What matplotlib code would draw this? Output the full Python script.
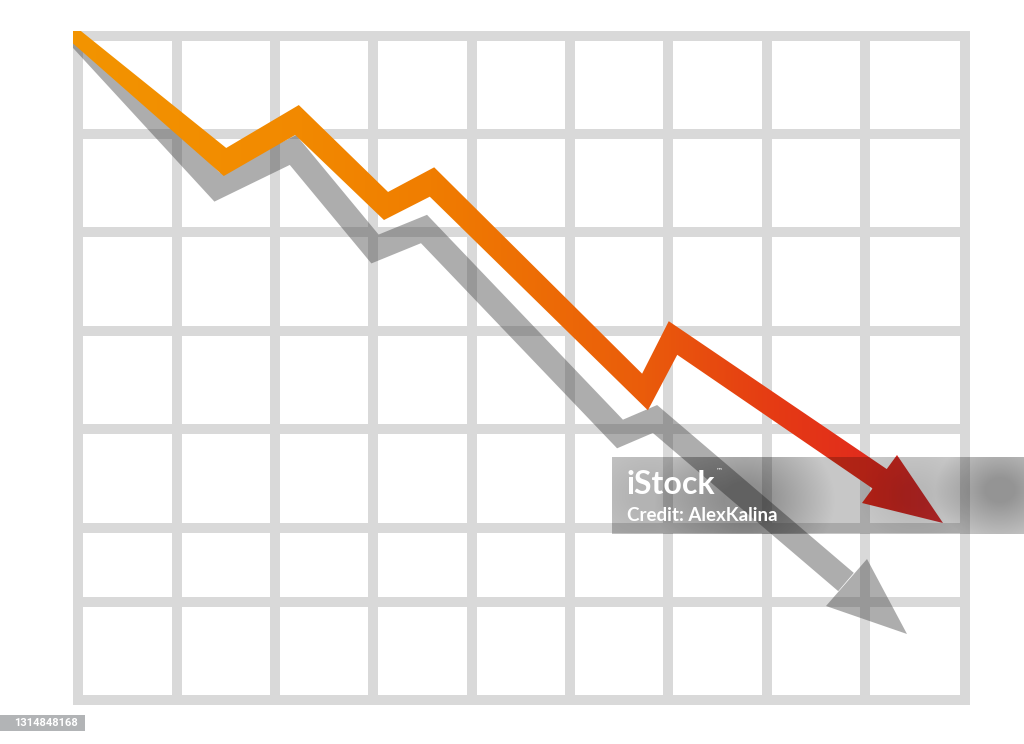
import numpy as np
import matplotlib
matplotlib.use("Agg")
import matplotlib.pyplot as plt
from matplotlib.path import Path
from matplotlib.patches import PathPatch, Rectangle
from matplotlib.colors import LinearSegmentedColormap

# everything is in picture pixels (x right, y down)
grid_x = [78, 177, 275, 373, 472, 570, 668, 767, 865, 965]
grid_y = [36, 134, 232, 331, 429, 528, 602, 700]

# falling line (centre line), with its width at each vertex
line_x = [66, 225, 297, 386, 432, 645, 673, 880]
line_y = [28, 162, 120, 206, 182, 392, 338, 479]
line_w = [14, 23, 24, 23, 24, 22, 23, 24]
head_x = [897, 943, 862]
head_y = [455, 523, 503]

# grey shadow of the line
shadow_x = [66, 217, 293, 375, 424, 620, 655, 846]
shadow_y = [30, 187, 150, 249, 229, 434, 419, 582]
shadow_w = [14, 24, 24, 24, 24, 24, 24, 24]
shead_x = [867, 907, 826]
shead_y = [559, 634, 606]

# orange -> red along x
grad_pos = [73, 300, 430, 645, 780, 880, 945]
grad_col = ["#f39400", "#f28900", "#f07d00", "#ea5c0b", "#e53a14", "#e12a1e", "#dc3034"]

# darker soft spots inside the watermark band (centre x, centre y, radius, strength)
spot_x = [745, 1000, 915, 650]
spot_y = [500, 490, 495, 495]
spot_r = [70, 50, 45, 60]
spot_a = [0.22, 0.2, 0.06, 0.08]

PX = 72 / 100.0


def band(xs, ys, ws):
    P = np.column_stack([xs, ys]).astype(float)
    d = np.diff(P, axis=0)
    d /= np.linalg.norm(d, axis=1)[:, None]
    nrm = np.column_stack([-d[:, 1], d[:, 0]])
    left, right = [], []
    for i in range(len(P)):
        if i == 0:
            m, s = nrm[0], 1.0
        elif i == len(P) - 1:
            m, s = nrm[-1], 1.0
        else:
            m = nrm[i - 1] + nrm[i]
            m = m / np.linalg.norm(m)
            s = 1.0 / np.dot(m, nrm[i])
        h = ws[i] / 2.0 * s
        left.append(P[i] + m * h)
        right.append(P[i] - m * h)
    return np.array(left + right[::-1])


def ccw(poly):
    x, y = poly[:, 0], poly[:, 1]
    a = np.sum(x * np.roll(y, -1) - np.roll(x, -1) * y)
    return poly if a > 0 else poly[::-1]


def shape_path(polys):
    verts, codes = [], []
    for p in polys:
        p = ccw(np.asarray(p, float))
        verts += list(p) + [p[0]]
        codes += [Path.MOVETO] + [Path.LINETO] * (len(p) - 1) + [Path.CLOSEPOLY]
    return Path(verts, codes)


fig = plt.figure(figsize=(10.24, 7.44), dpi=100)
ax = fig.add_axes([0, 0, 1, 1])
fig.patch.set_facecolor("white")

# grid
ax.hlines(grid_y, grid_x[0] - 5, grid_x[-1] + 5, color="#d9d9d9", lw=10 * PX, capstyle="butt", zorder=1)
ax.vlines(grid_x, grid_y[0] - 5, grid_y[-1] + 5, color="#d9d9d9", lw=10 * PX, capstyle="butt", zorder=1)

clip = Rectangle((73, 31), 900, 680, transform=ax.transData)

# shadow
sp = shape_path([band(shadow_x, shadow_y, shadow_w), np.column_stack([shead_x, shead_y])])
shadow = PathPatch(sp, facecolor="#4a4a4a", edgecolor="none", alpha=0.45, zorder=2)
ax.add_patch(shadow)
shadow.set_clip_path(clip)

# coloured line with gradient
lp = shape_path([band(line_x, line_y, line_w), np.column_stack([head_x, head_y])])
lpatch = PathPatch(lp, facecolor="none", edgecolor="none", zorder=3)
ax.add_patch(lpatch)
x0, x1 = 73, 950
stops = [(p - x0) / (x1 - x0) for p in grad_pos]
stops[0], stops[-1] = 0.0, 1.0
cmap = LinearSegmentedColormap.from_list("fall", list(zip(stops, grad_col)))
img = ax.imshow(np.linspace(0, 1, 400)[None, :], cmap=cmap, extent=(x0, x1, 540, 31),
                aspect="auto", interpolation="bilinear", zorder=3)
img.set_clip_path(lpatch)

# watermark band with soft darker spots
bx0, bx1, by0, by1 = 612, 1024, 457, 534
gx, gy = np.meshgrid(np.arange(bx0, bx1) + 0.5, np.arange(by0, by1) + 0.5)
alpha = np.full(gx.shape, 0.22)
for cx, cy, r, a in zip(spot_x, spot_y, spot_r, spot_a):
    dist = np.hypot(gx - cx, (gy - cy) * 1.2) / r
    alpha += a * np.clip(1.3 - dist, 0, 1)
alpha = np.clip(alpha, 0, 0.55)
rgba = np.zeros(gx.shape + (4,))
rgba[..., 3] = alpha
ax.imshow(rgba, extent=(bx0, bx1, by1, by0), aspect="auto", interpolation="bilinear", zorder=5)

ax.text(626, 494, "iStock", color="white", fontsize=23, fontweight="bold", family="Lato",
        ha="left", va="baseline", zorder=6)
ax.text(716, 472, "\u2122", color="white", fontsize=5, family="DejaVu Sans", ha="left", va="baseline", zorder=6)
ax.text(627, 521, "Credit: AlexKalina", color="white", fontsize=13.5, fontweight="bold", family="Lato",
        ha="left", va="baseline", zorder=6)

ax.add_patch(Rectangle((0, 715), 85, 16, facecolor="#b2b4b6", edgecolor="none", zorder=5))
ax.text(46, 723.5, "1314848168", color="white", fontsize=8, fontweight="bold", family="Roboto",
        ha="center", va="center", zorder=6)

ax.set_xlim(0, 1024)
ax.set_ylim(744, 0)
ax.axis("off")
fig.savefig("out.png", dpi=100, facecolor="white")
